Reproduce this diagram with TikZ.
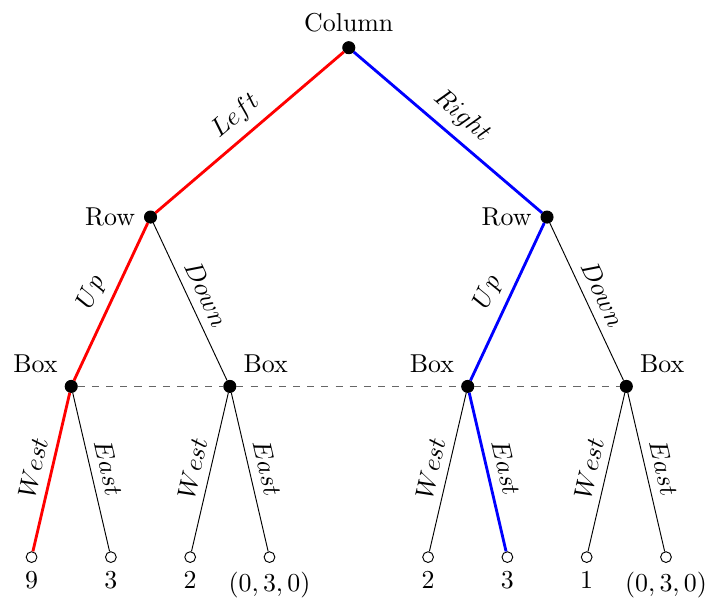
\documentclass[tikz,border=0pt,11pt]{standalone}
\usepackage{amsmath,amssymb}
\usepackage{xcolor}
\usepackage{tikz}
\usetikzlibrary{positioning, calc}

\begin{document}
\begin{tikzpicture}[thin]
    \tikzset{
        decision/.style={circle, fill=black, draw=black, inner sep=0pt, minimum size=0.18cm},
        payoff/.style={circle, fill=white, draw=black, inner sep=0pt, minimum size=0.16cm},
        move/.style={draw=black},
        redmove/.style={draw=red, very thick},
        bluemove/.style={draw=blue, very thick},
        info/.style={draw=black!60, dashed, semithick},
        act/.style={midway, above, sloped}
    }
    \useasboundingbox (-5.19,0.71) rectangle (5.36,-8.24);

    % decision nodes
    \node (Column) [decision, label=above:Column] at (0,0) {};
    \node (RowL) [decision, label=left:Row] at (-2.95,-2.52) {};
    \node (RowR) [decision, label=left:Row] at (2.95,-2.52) {};

    \node (BoxLL) [decision, label=above left:Box] at (-4.13,-5.04) {};
    \node (BoxLR) [decision, label=above right:Box] at (-1.77,-5.04) {};
    \node (BoxRL) [decision, label=above left:Box] at (1.77,-5.04) {};
    \node (BoxRR) [decision, label=above right:Box] at (4.13,-5.04) {};

    % payoffs
    \node (P1) [payoff, label=below:$9$] at (-4.72,-7.58) {};
    \node (P2) [payoff, label=below:$3$] at (-3.54,-7.58) {};
    \node (P3) [payoff, label=below:$2$] at (-2.36,-7.58) {};
    \node (P4) [payoff, label=below:{$(0,3,0)$}] at (-1.18,-7.58) {};
    \node (P5) [payoff, label=below:$2$] at (1.18,-7.58) {};
    \node (P6) [payoff, label=below:$3$] at (2.36,-7.58) {};
    \node (P7) [payoff, label=below:$1$] at (3.54,-7.58) {};
    \node (P8) [payoff, label=below:{$(0,3,0)$}] at (4.72,-7.58) {};

    % information set
    \path [info] (BoxLL) -- (BoxLR) -- (BoxRL) -- (BoxRR);

    % moves
    \path [redmove] (Column) -- node[act] {$Left$} (RowL);
    \path [bluemove] (Column) -- node[act] {$Right$} (RowR);

    \path [redmove] (RowL) -- node[act] {$Up$} (BoxLL);
    \path [move] (RowL) -- node[act] {$Down$} (BoxLR);
    \path [bluemove] (RowR) -- node[act] {$Up$} (BoxRL);
    \path [move] (RowR) -- node[act] {$Down$} (BoxRR);

    \path [redmove] (BoxLL) -- node[act] {$West$} (P1);
    \path [move] (BoxLL) -- node[act] {$East$} (P2);
    \path [move] (BoxLR) -- node[act] {$West$} (P3);
    \path [move] (BoxLR) -- node[act] {$East$} (P4);
    \path [move] (BoxRL) -- node[act] {$West$} (P5);
    \path [bluemove] (BoxRL) -- node[act] {$East$} (P6);
    \path [move] (BoxRR) -- node[act] {$West$} (P7);
    \path [move] (BoxRR) -- node[act] {$East$} (P8);

\end{tikzpicture}
\end{document}
